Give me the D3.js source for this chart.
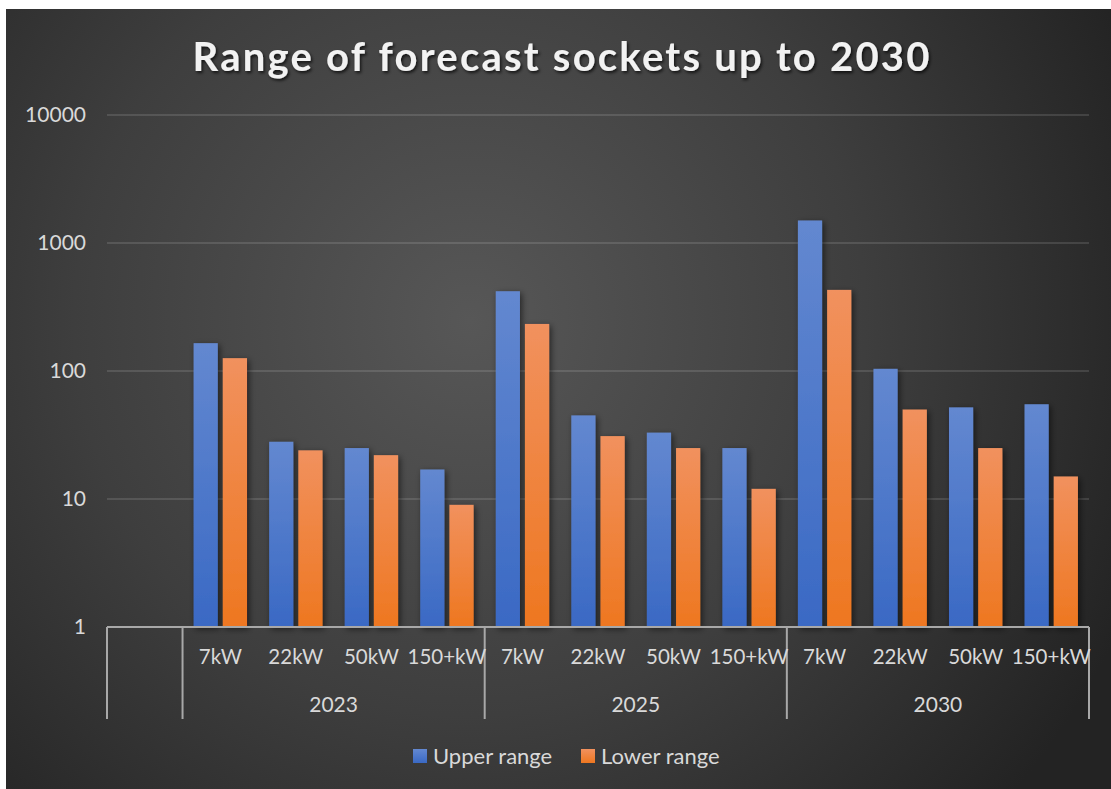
<!DOCTYPE html>
<html>
<head>
<meta charset="utf-8">
<script src="https://cdn.jsdelivr.net/npm/d3@7"></script>
<style>
  html, body { margin: 0; padding: 0; background: #ffffff; }
  svg { display: block; }
</style>
</head>
<body>
<svg id="chart" width="1111" height="789"></svg>
<script>
const title = "Range of forecast sockets up to 2030";
const years = ["2023", "2025", "2030"];
const types = ["7kW", "22kW", "50kW", "150+kW"];
const seriesNames = ["Upper range", "Lower range"];
const upperRange = [165, 28, 25, 17, 420, 45, 33, 25, 1500, 104, 52, 55];
const lowerRange = [126, 24, 22, 9, 233, 31, 25, 12, 430, 50, 25, 15];
const yTicks = [1, 10, 100, 1000, 10000];

const svg = d3.select("#chart");
const W = 1111, H = 789;
const plot = { left: 107, right: 1089, top: 115, bottom: 627 };
const font = "Lato, 'Open Sans', sans-serif";
const textColor = "#d9d9d9";

const defs = svg.append("defs");
const bg = defs.append("radialGradient").attr("id", "bg")
  .attr("gradientUnits", "userSpaceOnUse")
  .attr("cx", 470).attr("cy", 320).attr("r", 720);
bg.append("stop").attr("offset", 0).attr("stop-color", "#575757");
bg.append("stop").attr("offset", 0.55).attr("stop-color", "#3e3e3e");
bg.append("stop").attr("offset", 1).attr("stop-color", "#232323");

function barGrad(id, top, bottom) {
  const g = defs.append("linearGradient").attr("id", id)
    .attr("x1", 0).attr("y1", 0).attr("x2", 0).attr("y2", 1);
  g.append("stop").attr("offset", 0).attr("stop-color", top);
  g.append("stop").attr("offset", 1).attr("stop-color", bottom);
}
barGrad("gBlue", "#6388d0", "#3a69c4");
barGrad("gOrange", "#f1915e", "#ee7720");

const sh = defs.append("filter").attr("id", "shadow")
  .attr("x", "-30%").attr("y", "-10%").attr("width", "160%").attr("height", "130%");
sh.append("feDropShadow").attr("dx", 2).attr("dy", 2).attr("stdDeviation", 3)
  .attr("flood-color", "#000").attr("flood-opacity", 0.55);

const tsh = defs.append("filter").attr("id", "tshadow")
  .attr("x", "-10%").attr("y", "-30%").attr("width", "120%").attr("height", "160%");
tsh.append("feDropShadow").attr("dx", 1.5).attr("dy", 2).attr("stdDeviation", 1.5)
  .attr("flood-color", "#000").attr("flood-opacity", 0.7);

svg.append("rect").attr("x", 6).attr("y", 9).attr("width", W - 6).attr("height", H - 9)
  .attr("fill", "url(#bg)");

// title
svg.append("text").attr("x", 561).attr("y", 71)
  .attr("text-anchor", "middle")
  .attr("font-family", font).attr("font-weight", 700).attr("font-size", 40)
  .attr("fill", "#f2f2f2")
  .attr("textLength", 737).attr("lengthAdjust", "spacing")
  .attr("filter", "url(#tshadow)")
  .text(title);

// scales
const categories = [""].concat(years.flatMap(y => types.map(t => y + "|" + t)));
const x = d3.scaleBand().domain(categories).range([plot.left, plot.right]).padding(0);
const xs = d3.scaleBand().domain(seriesNames).range([0, x.bandwidth()])
  .paddingInner(0.172).paddingOuter(0.379);
const y = d3.scaleLog().domain([1, 10000]).range([plot.bottom, plot.top]);

// gridlines
svg.append("g").selectAll("line").data(yTicks.slice(1)).join("line")
  .attr("x1", plot.left).attr("x2", plot.right)
  .attr("y1", d => y(d)).attr("y2", d => y(d))
  .attr("stroke", "rgba(255,255,255,0.12)").attr("stroke-width", 2);

// y axis labels
const yAxis = d3.axisLeft(y).tickValues(yTicks).tickFormat(d3.format("d")).tickSize(0).tickPadding(21);
const yg = svg.append("g").attr("transform", `translate(${plot.left},0)`).call(yAxis);
yg.select(".domain").remove();
yg.selectAll("text").attr("font-family", font).attr("font-size", 21).attr("fill", textColor);

// bars
const rows = categories.slice(1).map((c, i) => ({ cat: c, values: [upperRange[i], lowerRange[i]] }));
const fills = ["url(#gBlue)", "url(#gOrange)"];
const barG = svg.append("g").attr("filter", "url(#shadow)");
rows.forEach(r => {
  seriesNames.forEach((s, j) => {
    barG.append("rect")
      .attr("x", x(r.cat) + xs(s))
      .attr("width", xs.bandwidth())
      .attr("y", y(r.values[j]))
      .attr("height", y(1) - y(r.values[j]))
      .attr("fill", fills[j]);
  });
});

// x axis
const axisColor = "#a8a8a8";
const ax = svg.append("g");
ax.append("line").attr("x1", plot.left).attr("x2", plot.right)
  .attr("y1", plot.bottom).attr("y2", plot.bottom)
  .attr("stroke", axisColor).attr("stroke-width", 2);
const dividers = [plot.left, x(categories[1])].concat(years.map(yr => x(yr + "|" + types[types.length - 1]) + x.bandwidth()));
ax.selectAll("line.div").data(dividers).join("line").attr("class", "div")
  .attr("x1", d => d).attr("x2", d => d)
  .attr("y1", plot.bottom).attr("y2", 719)
  .attr("stroke", axisColor).attr("stroke-width", 2);

const xAxisSub = d3.axisBottom(x).tickFormat(d => d.split("|")[1] || "").tickSize(0).tickPadding(0);
const xg = svg.append("g").attr("transform", `translate(0,657)`).call(xAxisSub);
xg.select(".domain").remove();
xg.selectAll("text").attr("dy", "0.35em").attr("font-family", font).attr("font-size", 20.5).attr("fill", textColor);

ax.selectAll("text.yr").data(years).join("text").attr("class", "yr")
  .attr("x", yr => (x(yr + "|" + types[0]) + x(yr + "|" + types[types.length - 1]) + x.bandwidth()) / 2)
  .attr("y", 705).attr("dy", "0.35em").attr("text-anchor", "middle")
  .attr("font-family", font).attr("font-size", 21).attr("fill", textColor)
  .text(d => d);

// legend
const legend = svg.append("g");
const legX = [413, 581];
seriesNames.forEach((s, j) => {
  legend.append("rect").attr("x", legX[j]).attr("y", 749).attr("width", 14).attr("height", 14)
    .attr("fill", fills[j]);
  legend.append("text").attr("x", legX[j] + 20).attr("y", 756).attr("dy", "0.35em")
    .attr("font-family", font).attr("font-size", 22).attr("fill", textColor).text(s);
});
</script>
</body>
</html>
